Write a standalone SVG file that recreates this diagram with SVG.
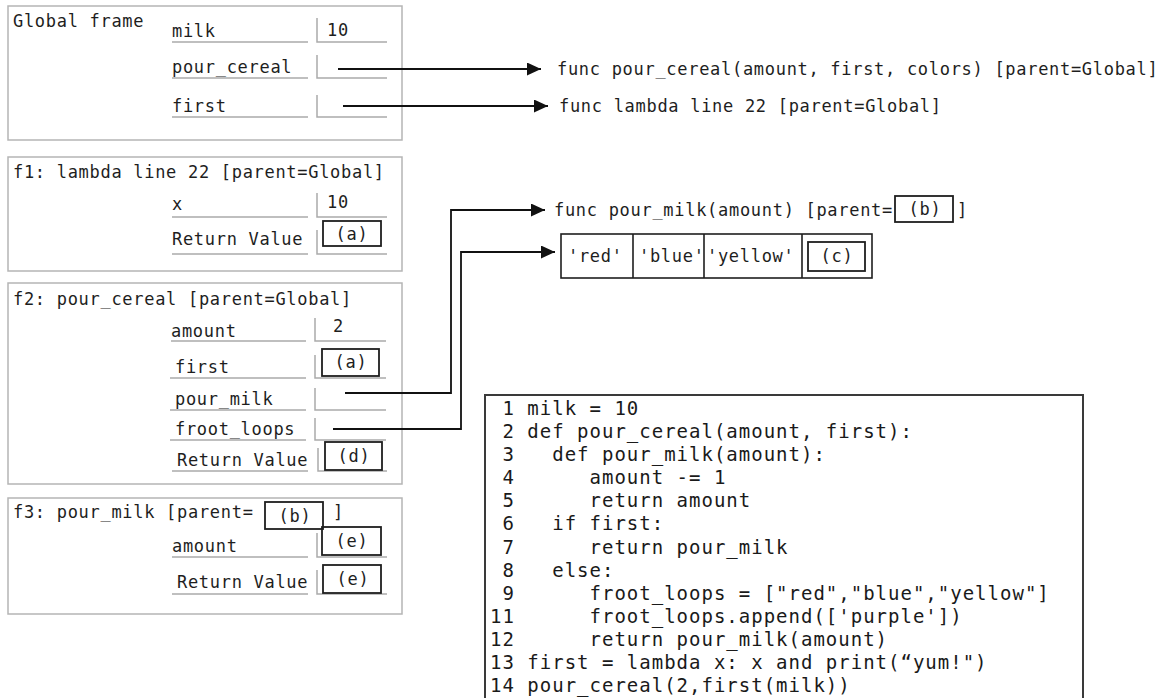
<svg xmlns="http://www.w3.org/2000/svg" width="1164" height="698" viewBox="0 0 1164 698">
<defs>
<style>
.frame{fill:none;stroke:#b5b5b5;stroke-width:1.5}
.ul{stroke:#aaaaaa;stroke-width:1.5;fill:none}
.vb{fill:none;stroke:#1e1e1e;stroke-width:1.8}
.t{font-family:"DejaVu Sans Mono","Liberation Mono",monospace;font-size:17px;letter-spacing:0.7px;fill:#1e1e1e}
.c{text-anchor:middle}
.code{font-family:"DejaVu Sans Mono","Liberation Mono",monospace;font-size:19px;letter-spacing:1px;fill:#1a1a1a;white-space:pre}
.cbox{fill:none;stroke:#3a3a3a;stroke-width:2}
.lst{fill:none;stroke:#1e1e1e;stroke-width:1.6}
.conn{fill:none;stroke:#111;stroke-width:1.8}
</style>
<marker id="ah" viewBox="0 0 14 13" refX="14" refY="6.5" markerWidth="14" markerHeight="13" markerUnits="userSpaceOnUse" orient="auto">
<path d="M0,0 L14,6.5 L0,13 z" fill="#111"/>
</marker>
</defs>
<rect width="1164" height="698" fill="#fff"/>

<g id="global-frame">
<rect class="frame" x="8" y="6" width="394" height="134"/>
<text class="t" x="13" y="27">Global frame</text>
<text class="t" x="172" y="37">milk</text>
<path class="ul" d="M172,42H308M317,18V42H387"/>
<text class="t" x="327" y="36">10</text>
<text class="t" x="172" y="73">pour_cereal</text>
<path class="ul" d="M172,78H308M317,55V78H387"/>
<text class="t" x="172" y="112">first</text>
<path class="ul" d="M172,117H308M317,95V117H387"/>
</g>

<g id="func-pour-cereal">
<text class="t" x="557" y="75">func pour_cereal(amount, first, colors) [parent=Global]</text>
</g>
<g id="func-lambda">
<text class="t" x="559" y="112">func lambda line 22 [parent=Global]</text>
</g>

<g id="f1-frame">
<rect class="frame" x="8" y="157" width="394" height="114"/>
<text class="t" x="13" y="178">f1: lambda line 22 [parent=Global]</text>
<text class="t" x="172" y="210">x</text>
<path class="ul" d="M172,217H308M317,193V217H387"/>
<text class="t" x="327" y="208">10</text>
<text class="t" x="172" y="245">Return Value</text>
<path class="ul" d="M172,254H308M317,230V254H387"/>
<rect class="vb" x="323" y="221" width="58" height="25"/>
<text class="t c" x="352" y="240">(a)</text>
</g>

<g id="f2-frame">
<rect class="frame" x="8" y="283" width="394" height="201"/>
<text class="t" x="13" y="305">f2: pour_cereal [parent=Global]</text>
<text class="t" x="171" y="337">amount</text>
<path class="ul" d="M171,341H306M315,318V341H386"/>
<text class="t" x="333" y="332">2</text>
<text class="t" x="175" y="373">first</text>
<path class="ul" d="M170,378H306M315,355V378H386"/>
<rect class="vb" x="322" y="349" width="57" height="27"/>
<text class="t c" x="351" y="368">(a)</text>
<text class="t" x="175" y="405">pour_milk</text>
<path class="ul" d="M170,410H306M315,388V410H386"/>
<text class="t" x="175" y="435">froot_loops</text>
<path class="ul" d="M170,440H306M315,418V440H386"/>
<text class="t" x="177" y="466">Return Value</text>
<path class="ul" d="M172,471H308M318,448V471H387"/>
<rect class="vb" x="325" y="442" width="57" height="28"/>
<text class="t c" x="354" y="462">(d)</text>
</g>

<g id="f3-frame">
<rect class="frame" x="8" y="498" width="394" height="116"/>
<text class="t" x="13" y="518">f3: pour_milk [parent=</text>
<rect class="vb" x="265" y="502" width="58" height="27"/>
<text class="t c" x="295" y="522">(b)</text>
<text class="t" x="333" y="518">]</text>
<text class="t" x="172" y="552">amount</text>
<path class="ul" d="M172,557H308M317,533V557H387"/>
<rect class="vb" x="322" y="527" width="59" height="28"/>
<text class="t c" x="352" y="547">(e)</text>
<text class="t" x="177" y="588">Return Value</text>
<path class="ul" d="M172,594H308M317,570V594H387"/>
<rect class="vb" x="323" y="565" width="58" height="28"/>
<text class="t c" x="353" y="585">(e)</text>
</g>

<g id="func-pour-milk">
<text class="t" x="554" y="216">func pour_milk(amount) [parent=</text>
<rect class="vb" x="895" y="196" width="58" height="26"/>
<text class="t c" x="925" y="215">(b)</text>
<text class="t" x="957" y="216">]</text>
</g>

<g id="froot-loops-list">
<rect class="lst" x="561" y="234" width="311" height="44"/>
<path class="lst" d="M633,234V278M704,234V278M802,234V278"/>
<text class="t" x="568" y="262">'red'</text>
<text class="t" x="639" y="262">'blue'</text>
<text class="t" x="707" y="262">'yellow'</text>
<rect class="vb" x="808" y="242" width="57" height="29"/>
<text class="t c" x="837" y="262">(c)</text>
</g>

<g id="code">
<rect class="cbox" x="485" y="395" width="598" height="315"/>
<text class="code" xml:space="preserve" x="490" y="415"> 1 milk = 10</text>
<text class="code" xml:space="preserve" x="490" y="438"> 2 def pour_cereal(amount, first):</text>
<text class="code" xml:space="preserve" x="490" y="461"> 3   def pour_milk(amount):</text>
<text class="code" xml:space="preserve" x="490" y="484"> 4      amount -= 1</text>
<text class="code" xml:space="preserve" x="490" y="507"> 5      return amount</text>
<text class="code" xml:space="preserve" x="490" y="530"> 6   if first:</text>
<text class="code" xml:space="preserve" x="490" y="554"> 7      return pour_milk</text>
<text class="code" xml:space="preserve" x="490" y="577"> 8   else:</text>
<text class="code" xml:space="preserve" x="490" y="600"> 9      froot_loops = ["red","blue","yellow"]</text>
<text class="code" xml:space="preserve" x="490" y="623">11      froot_loops.append(['purple'])</text>
<text class="code" xml:space="preserve" x="490" y="646">12      return pour_milk(amount)</text>
<text class="code" xml:space="preserve" x="490" y="669">13 first = lambda x: x and print(“yum!")</text>
<text class="code" xml:space="preserve" x="490" y="692">14 pour_cereal(2,first(milk))</text>
</g>

<g id="connectors">
<path class="conn" d="M338,69H541" marker-end="url(#ah)"/>
<path class="conn" d="M343,106H548" marker-end="url(#ah)"/>
<path class="conn" d="M345,393H451V210H545" marker-end="url(#ah)"/>
<path class="conn" d="M333,429H461V252H555" marker-end="url(#ah)"/>
</g>
</svg>
